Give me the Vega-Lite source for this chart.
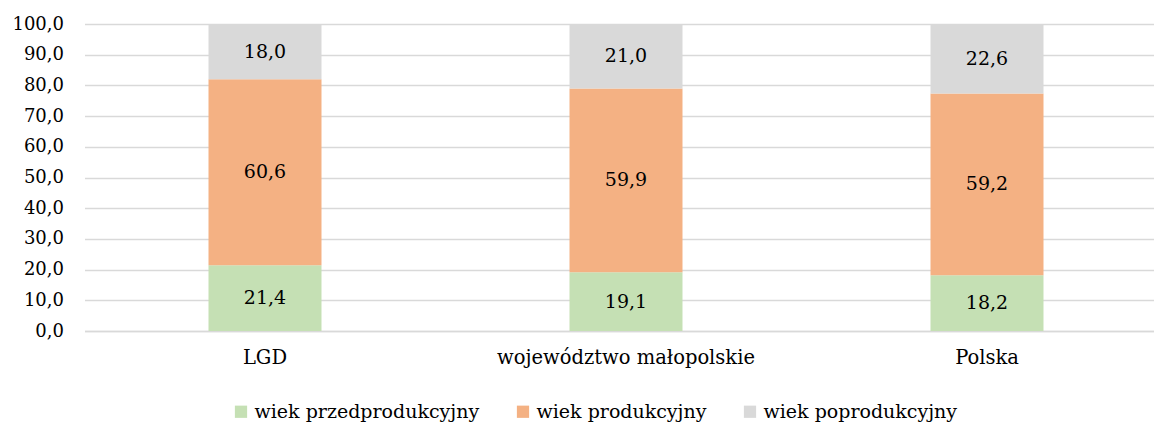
{
  "$schema": "https://vega.github.io/schema/vega-lite/v6.json",
  "width": 1083,
  "height": 307,
  "autosize": {"type": "none"},
  "padding": {"left": 84.5, "top": 24, "right": 0, "bottom": 92},
  "config": {
    "locale": {"number": {"decimal": ",", "thousands": " ", "grouping": [3], "currency": ["", " zł"]}},
    "font": "DejaVu Serif",
    "view": {"stroke": null},
    "axis": {"labelFont": "DejaVu Serif", "labelFontSize": 18, "labelColor": "#000000", "labelLimit": 500, "labelOverlap": false},
    "axisY": {"values": [0,10,20,30,40,50,60,70,80,90,100], "format": ".1f", "domain": false, "ticks": false, "gridColor": "#d9d9d9", "gridWidth": 1.5, "labelPadding": 21, "title": null}
  },
  "data": {
    "values": [
      {"region": "LGD", "group": "wiek przedprodukcyjny", "ord": 1, "value": 21.4},
      {"region": "LGD", "group": "wiek produkcyjny", "ord": 2, "value": 60.6},
      {"region": "LGD", "group": "wiek poprodukcyjny", "ord": 3, "value": 18.0},
      {"region": "województwo małopolskie", "group": "wiek przedprodukcyjny", "ord": 1, "value": 19.1},
      {"region": "województwo małopolskie", "group": "wiek produkcyjny", "ord": 2, "value": 59.9},
      {"region": "województwo małopolskie", "group": "wiek poprodukcyjny", "ord": 3, "value": 21.0},
      {"region": "Polska", "group": "wiek przedprodukcyjny", "ord": 1, "value": 18.2},
      {"region": "Polska", "group": "wiek produkcyjny", "ord": 2, "value": 59.2},
      {"region": "Polska", "group": "wiek poprodukcyjny", "ord": 3, "value": 22.6}
    ]
  },
  "transform": [
    {"stack": "value", "groupby": ["region"], "sort": [{"field": "ord", "order": "ascending"}], "as": ["v0", "v1"]},
    {"calculate": "(datum.v0 + datum.v1) / 2", "as": "mid"}
  ],
  "encoding": {
    "x": {
      "field": "region", "type": "nominal", "sort": null, "title": null,
      "scale": {"paddingInner": 0.687, "paddingOuter": 0.3435},
      "axis": {"labelAngle": 0, "ticks": false, "domainColor": "#d9d9d9", "domainWidth": 1.5, "labelPadding": 17, "labelFontSize": 19.5}
    }
  },
  "layer": [
    {
      "mark": {"type": "bar"},
      "encoding": {
        "y": {
          "field": "v0", "type": "quantitative", "title": null,
          "scale": {"domain": [0, 100], "nice": false}
        },
        "y2": {"field": "v1"},
        "color": {
          "field": "group", "type": "nominal",
          "scale": {"domain": ["wiek przedprodukcyjny", "wiek produkcyjny", "wiek poprodukcyjny"], "range": ["#c5e0b4", "#f4b183", "#d9d9d9"]},
          "legend": {
            "title": null, "orient": "none", "direction": "horizontal", "legendX": 147, "legendY": 378,
            "symbolType": "square", "symbolSize": 150, "symbolStrokeWidth": 0, "symbolOpacity": 1,
            "labelFont": "DejaVu Serif", "labelFontSize": 19, "labelColor": "#000000", "labelOffset": 4, "labelLimit": 500, "columnPadding": 34
          }
        }
      }
    },
    {
      "mark": {"type": "text", "fontSize": 19, "font": "DejaVu Serif", "color": "#000000", "baseline": "middle"},
      "encoding": {
        "y": {"field": "mid", "type": "quantitative", "title": null},
        "text": {"field": "value", "type": "quantitative", "format": ".1f"}
      }
    }
  ]
}
